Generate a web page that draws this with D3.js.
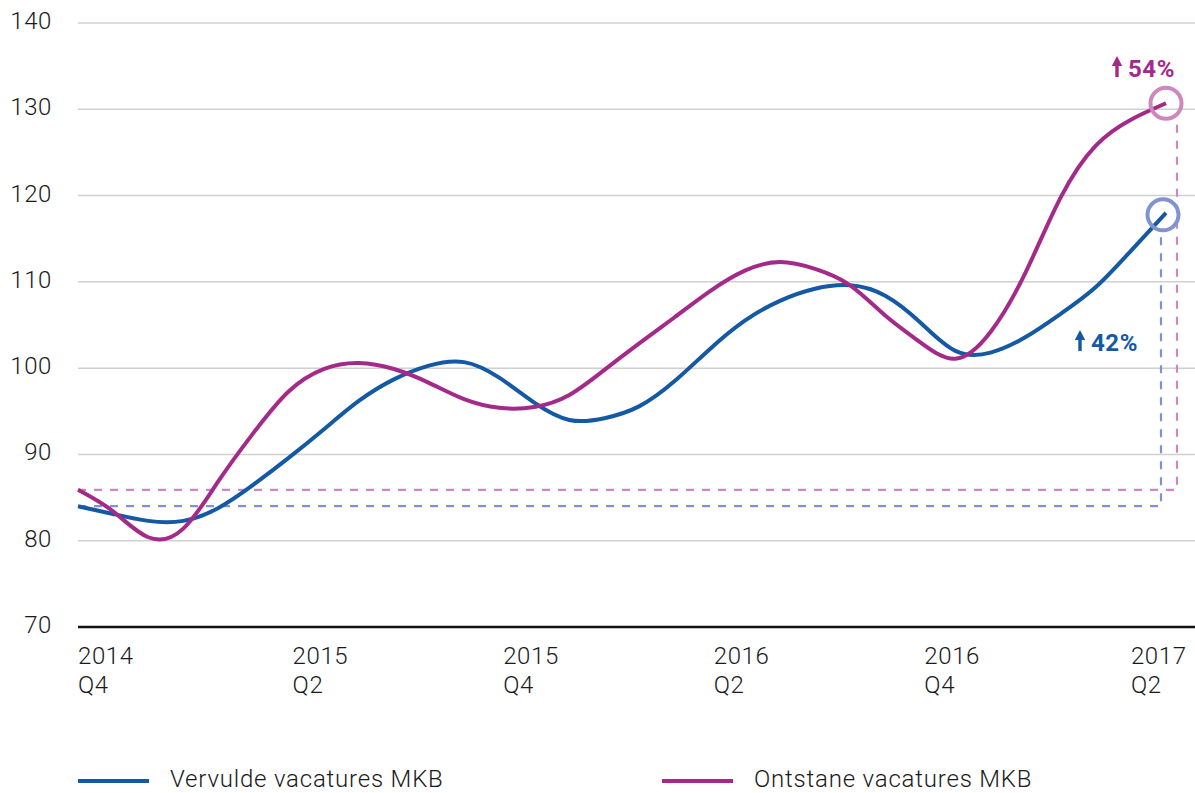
<!DOCTYPE html>
<html>
<head>
<meta charset="utf-8">
<script src="https://cdn.jsdelivr.net/npm/d3@7"></script>
<style>
  body { margin: 0; background: #fff; }
  text { font-family: Roboto, "Open Sans", sans-serif; }
</style>
</head>
<body>
<div id="chart"></div>
<script>
// monthly index, 2014 Q4 .. 2017 Q2
var months = d3.range(32)
var vervuld = [84.0, 83.1, 82.3, 82.3, 83.8, 86.5, 89.6, 92.9, 96.2, 98.7, 100.3, 100.7, 98.9, 96.0, 94.0, 94.2,
               95.6, 98.5, 102.2, 105.5, 107.8, 109.2, 109.6, 108.4, 105.3, 102.0, 101.8, 103.6, 106.3, 109.4, 113.6, 118.0]
var ontstaan = [85.9, 83.4, 80.4, 81.4, 86.9, 92.5, 97.3, 99.9, 100.6, 99.9, 98.3, 96.4, 95.4, 95.5, 96.9, 99.8,
                102.9, 105.9, 108.9, 111.3, 112.3, 111.5, 109.6, 106.1, 103.0, 101.1, 104.2, 111.1, 119.8, 125.8, 128.8, 130.7]
var yTicks = [70, 80, 90, 100, 110, 120, 130, 140]
var xLabels = [[0, "2014", "Q4"], [6, "2015", "Q2"], [12, "2015", "Q4"], [18, "2016", "Q2"], [24, "2016", "Q4"], [30, "2017", "Q2"]]
var series = ["Vervulde vacatures MKB", "Ontstane vacatures MKB"]
var growth = ["42%", "54%"]

var w = 1195
var h = 793
var blue = "#1459a3"
var magenta = "#a42a8a"
var blueLight = "#7f93cf"
var magentaLight = "#cd88bd"

var svg = d3.select("#chart")
  .append("svg")
    .attr("width", w)
    .attr("height", h)

var xScale = d3.scaleLinear()
    .domain([0, 31])
    .range([78, 1166])
var yScale = d3.scaleLinear()
    .domain([70, 130])
    .range([627, 109.3])

// gridlines + y labels
svg.append("g").selectAll("line")
    .data(yTicks.filter(d => d > 70))
  .enter().append("line")
    .attr("x1", 78)
    .attr("x2", w)
    .attr("y1", d => yScale(d))
    .attr("y2", d => yScale(d))
    .attr("stroke", "#d0d0d0")
    .attr("stroke-width", 1.5)

svg.append("g").selectAll("text")
    .data(yTicks)
  .enter().append("text")
    .attr("x", 52)
    .attr("y", d => yScale(d) + 6)
    .attr("text-anchor", "end")
    .attr("font-size", 24)
    .attr("font-weight", 300)
    .attr("letter-spacing", 0.6)
    .attr("fill", "#1a1a1a")
    .text(d => d)

svg.append("line")
    .attr("x1", 78)
    .attr("x2", w)
    .attr("y1", yScale(70))
    .attr("y2", yScale(70))
    .attr("stroke", "#111")
    .attr("stroke-width", 2.5)

// x labels
var xl = svg.append("g").selectAll("text")
    .data(xLabels)
  .enter().append("text")
    .attr("x", d => xScale(d[0]) + (d[0] > 0 && d[0] < 30 ? 4 : 0))
    .attr("y", 664)
    .attr("font-size", 24)
    .attr("font-weight", 300)
    .attr("letter-spacing", 0.6)
    .attr("fill", "#1a1a1a")
xl.append("tspan").text(d => d[1])
xl.append("tspan")
    .attr("x", d => xScale(d[0]) + (d[0] > 0 && d[0] < 30 ? 4 : 0))
    .attr("dy", 29)
    .text(d => d[2])

// dashed reference lines
var last = months.length - 1
function guide(values, dx, color, rEnd) {
  var x0 = xScale(0), x1 = xScale(last) + dx
  var y0 = yScale(values[0]), y1 = yScale(values[last]) + rEnd
  svg.append("path")
      .attr("d", `M${x0},${y0}H${x1}V${y1}`)
      .attr("fill", "none")
      .attr("stroke", color)
      .attr("stroke-width", 2.2)
      .attr("stroke-dasharray", "8,8")
}
guide(ontstaan, 11, magentaLight, 17)
guide(vervuld, -5, blueLight, 18)

// lines
var line = d3.line()
    .x((d, i) => xScale(i))
    .y(d => yScale(d))
    .curve(d3.curveNatural)

svg.append("path")
    .datum(vervuld)
    .attr("d", line)
    .attr("fill", "none")
    .attr("stroke", blue)
    .attr("stroke-width", 4)
svg.append("path")
    .datum(ontstaan)
    .attr("d", line)
    .attr("fill", "none")
    .attr("stroke", magenta)
    .attr("stroke-width", 4)

// end circles
svg.append("circle")
    .attr("cx", xScale(last) - 3)
    .attr("cy", yScale(vervuld[last]) + 2)
    .attr("r", 15.5)
    .attr("fill", "none")
    .attr("stroke", blueLight)
    .attr("stroke-width", 4)
svg.append("circle")
    .attr("cx", xScale(last))
    .attr("cy", yScale(ontstaan[last]))
    .attr("r", 15.5)
    .attr("fill", "none")
    .attr("stroke", magentaLight)
    .attr("stroke-width", 4)

// growth labels
function arrowLabel(x, y, color, txt) {
  var g = svg.append("g").attr("transform", `translate(${x},${y})`)
  g.append("path")
      .attr("d", "M0,-21 L5.2,-11 L1.7,-11 L1.7,0 L-1.7,0 L-1.7,-11 L-5.2,-11 Z")
      .attr("fill", color)
  g.append("text")
      .attr("x", 11)
      .attr("font-size", 24)
      .attr("font-weight", "bold")
      .attr("letter-spacing", 0.6)
      .attr("fill", color)
      .text(txt)
}
arrowLabel(1117, 77, magenta, growth[1])
arrowLabel(1080, 351, blue, growth[0])

// legend
var legend = svg.append("g").selectAll("g")
    .data(series)
  .enter().append("g")
    .attr("transform", (d, i) => `translate(${i == 0 ? 78 : 662}, 781)`)
legend.append("line")
    .attr("x1", 0)
    .attr("x2", 71)
    .attr("stroke", (d, i) => i == 0 ? blue : magenta)
    .attr("stroke-width", 4)
legend.append("text")
    .attr("x", 92)
    .attr("y", 6)
    .attr("font-size", 24)
    .attr("font-weight", 300)
    .attr("letter-spacing", 0.8)
    .attr("fill", "#1a1a1a")
    .text(d => d)
</script>
</body>
</html>
